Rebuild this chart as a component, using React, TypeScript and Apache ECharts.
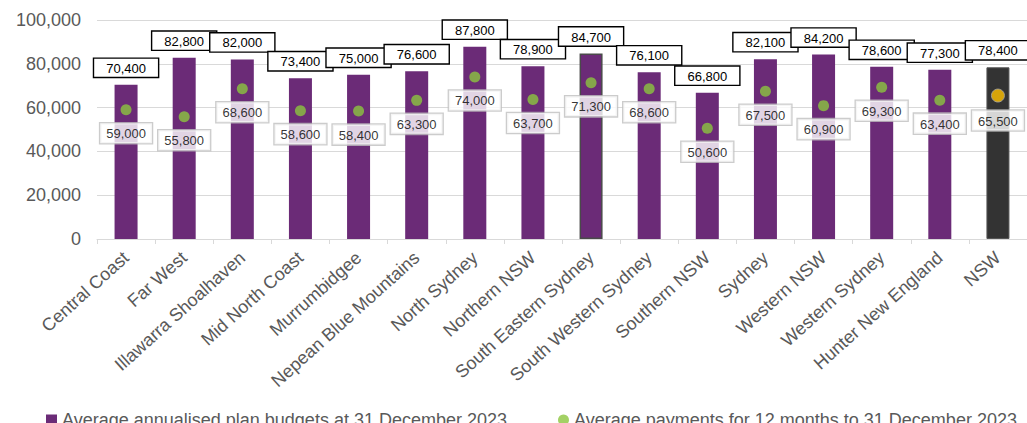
import React, { useEffect, useRef } from "react";
import * as echarts from "echarts";

const categories = [
  "Central Coast", "Far West", "Illawarra Shoalhaven", "Mid North Coast", "Murrumbidgee",
  "Nepean Blue Mountains", "North Sydney", "Northern NSW", "South Eastern Sydney",
  "South Western Sydney", "Southern NSW", "Sydney", "Western NSW", "Western Sydney",
  "Hunter New England", "NSW",
];
const budgets = [70400, 82800, 82000, 73400, 75000, 76600, 87800, 78900, 84700, 76100, 66800, 82100, 84200, 78600, 77300, 78400];
const payments = [59000, 55800, 68600, 58600, 58400, 63300, 74000, 63700, 71300, 68600, 50600, 67500, 60900, 69300, 63400, 65500];
const budgetName = "Average annualised plan budgets at 31 December 2023";
const paymentName = "Average payments for 12 months to 31 December 2023";

const FONT = "'Liberation Sans', Arial, sans-serif";
const PURPLE = "#6b2b77";
const GREEN = "#8cc63f";
const fmt = (v: number) => v.toLocaleString("en-US");

export default function App() {
  const ref = useRef<HTMLDivElement>(null);
  useEffect(() => {
    if (!ref.current) return;
    const chart = echarts.init(ref.current, null, { renderer: "svg" });
    const lastIdx = categories.length - 1;
    const outlinedIdx = categories.indexOf("South Eastern Sydney");
    chart.setOption({
      animation: false,
      textStyle: { fontFamily: FONT },
      grid: { left: 97, right: -3, top: 20, bottom: 184 },
      legend: [
        {
          data: [{ name: budgetName, icon: "rect" }],
          left: 41, top: 406, itemWidth: 11, itemHeight: 11, itemGap: 5,
          textStyle: { fontSize: 18, color: "#595959", fontFamily: FONT },
        },
        {
          data: [{ name: paymentName, icon: "circle" }],
          left: 553, top: 406, itemWidth: 11, itemHeight: 11,
          textStyle: { fontSize: 18, color: "#595959", fontFamily: FONT },
        },
      ],
      xAxis: {
        type: "category",
        data: categories,
        axisLine: { lineStyle: { color: "#d9d9d9", width: 1 } },
        axisTick: { show: true, length: 5, lineStyle: { color: "#d9d9d9" } },
        axisLabel: {
          rotate: 42, interval: 0, fontSize: 18, color: "#595959", fontFamily: FONT, margin: 16,
        },
      },
      yAxis: {
        type: "value",
        min: 0, max: 100000, interval: 20000,
        axisLine: { show: false },
        axisTick: { show: false },
        splitLine: { lineStyle: { color: "#d9d9d9", width: 1 } },
        axisLabel: {
          fontSize: 18, color: "#595959", fontFamily: FONT, margin: 16,
          formatter: (v: number) => fmt(v),
        },
      },
      series: [
        {
          name: budgetName,
          type: "bar",
          barWidth: 23,
          itemStyle: { color: PURPLE },
          data: budgets.map((v, i) => ({
            value: v,
            itemStyle:
              i === lastIdx
                ? { color: "#333333", borderColor: "#555555", borderWidth: 1 }
                : i === outlinedIdx
                ? { color: PURPLE, borderColor: "#4a4a4a", borderWidth: 1.5 }
                : undefined,
          })),
          label: {
            show: true, position: "top", distance: 8,
            formatter: (p: any) => fmt(p.value),
            fontSize: 13, color: "#000", fontFamily: FONT,
            backgroundColor: "#fff", borderColor: "#000", borderWidth: 1.4,
            padding: [3, 12, 2, 12],
          },
        },
        {
          name: paymentName,
          type: "scatter",
          symbol: "circle",
          symbolSize: 11,
          itemStyle: { color: GREEN },
          z: 3,
          data: payments.map((v, i) => ({
            value: v,
            symbolSize: i === lastIdx ? 13 : 11,
            itemStyle: i === lastIdx ? { color: "#ffc000", borderColor: "#a6a6a6", borderWidth: 1 } : undefined,
          })),
          label: {
            show: true, position: "bottom", distance: 8,
            formatter: (p: any) => fmt(p.value),
            fontSize: 13, color: "#000", fontFamily: FONT,
            backgroundColor: "#fff", borderColor: "#bfbfbf", borderWidth: 1.3,
            padding: [4, 6, 3, 6],
          },
        },
      ],
    });
    return () => chart.dispose();
  }, []);
  return (
    <div
      ref={ref}
      style={{ position: "fixed", left: 0, top: 0, width: 1027, height: 423, background: "#fff" }}
    />
  );
}
